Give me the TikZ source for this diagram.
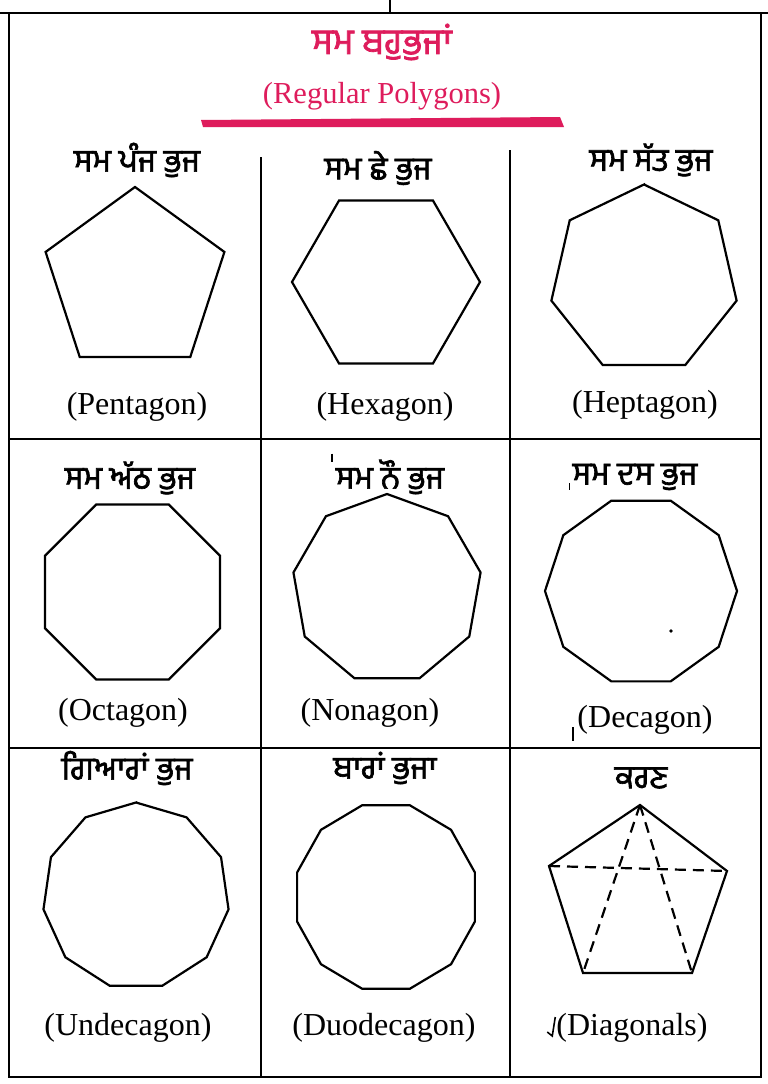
\documentclass[tikz,border=0pt]{standalone}
\usepackage{fontspec}
\setmainfont{Liberation Serif}
\newfontfamily\pa[Script=Gurmukhi,FakeBold=2]{Hind Jalandhar}
\definecolor{titlepink}{RGB}{222,28,92}
\tikzset{
  rule/.style={line width=2.6pt, black},
  polyline/.style={line width=2.2pt, line join=miter},
  palabel/.style={font=\pa\fontsize{32}{36}\selectfont, inner sep=0pt},
  enlabel/.style={font=\fontsize{32}{38}\selectfont, inner sep=0pt},
  diagline/.style={line width=2.2pt, dash pattern=on 11pt off 7pt},
  artifact/.style={line width=1.6pt, black},
}
\newcommand\rpoly[6]{\draw[polyline] plot[samples=#5, domain=0:360] ({#1+#3*cos(\x+#6)},{#2-#4*sin(\x+#6)}) -- cycle;}
\begin{document}
\begin{tikzpicture}[x=1pt,y=-1pt]
\fill[white] (0,0) rectangle (768,1084);
\useasboundingbox (0,0) rectangle (768,1084);

% table rules
\draw[rule] (0,13) -- (768,13);
\draw[rule] (390,0) -- (390,13);
\draw[rule] (9,13) -- (9,1077) -- (761,1077) -- (761,13);
\draw[rule] (9,439) -- (761,439);
\draw[rule] (9,748) -- (761,748);
\draw[rule] (261,157) -- (261,1077);
\draw[rule] (510,150) -- (510,1077);

% title
\node[font=\pa\fontsize{36}{40}\selectfont, text=titlepink, inner sep=0pt] (title) at (382,42) {ਸਮ ਬਹੁਭੁਜਾਂ};
\node[font=\fontsize{30.5}{34}\selectfont, text=titlepink, inner sep=0pt] (subtitle) at (382,96) {(Regular Polygons)};
\fill[titlepink] (201,120) -- (560,117) -- (564,127) -- (203,127) -- cycle;

% row 1
\node[palabel] (l1) at (137,160) {ਸਮ ਪੰਜ ਭੁਜ};
\node[palabel] (l2) at (378,168) {ਸਮ ਛੇ ਭੁਜ};
\node[palabel] (l3) at (651,160) {ਸਮ ਸੱਤ ਭੁਜ};
\rpoly{135}{281}{94}{94}{6}{90}
\rpoly{386}{282}{94}{94}{7}{0}
\rpoly{644}{279.5}{95}{95}{8}{90}
\node[enlabel] (e1) at (137,407) {(Pentagon)};
\node[enlabel] (e2) at (385,407) {(Hexagon)};
\node[enlabel] (e3) at (645,405) {(Heptagon)};

% row 2
\node[palabel] (l4) at (130,478) {ਸਮ ਅੱਠ ਭੁਜ};
\node[palabel] (l5) at (390,477) {ਸਮ ਨੌ ਭੁਜ};
\node[palabel] (l6) at (635,477) {ਸਮ ਦਸ ਭੁਜ};
\rpoly{132.5}{592}{94.7}{94.7}{9}{22.5}
\rpoly{387}{589}{95}{95}{10}{90}
\rpoly{641}{591}{96}{95}{11}{0}
\node[enlabel] (e4) at (123,713) {(Octagon)};
\node[enlabel] (e5) at (370,713) {(Nonagon)};
\node[enlabel] (e6) at (645,720) {(Decagon)};
\draw[artifact] ([xshift=-4pt,yshift=6pt]l5.north west) -- ++(0,8);
\draw[artifact] ([xshift=-3pt,yshift=-6pt]l6.west) -- ++(0,7);
\draw[artifact] ([xshift=-4pt,yshift=-7pt]e6.west) -- ++(0,14);
\fill (671,631) circle (1.8);

% row 3
\node[palabel] (l7) at (127,768) {ਗਿਆਰਾਂ ਭੁਜ};
\node[palabel] (l8) at (385,768) {ਬਾਰਾਂ ਭੁਜਾ};
\node[palabel] (l9) at (641,778) {ਕਰਣ};
\rpoly{136}{896}{93.5}{93.5}{12}{90}
\rpoly{386}{897}{92}{95}{13}{15}
\node[enlabel] (e7) at (128,1028) {(Undecagon)};
\node[enlabel] (e8) at (384,1028) {(Duodecagon)};
\node[enlabel] (e9) at (632,1028) {(Diagonals)};
\coordinate (jmark) at ([xshift=-1pt]e9.west);
\draw[artifact] ([yshift=11pt]jmark) -- ([xshift=-3pt,yshift=-8pt]jmark) -- ([xshift=-8pt,yshift=-4pt]jmark);

% pentagon with diagonals
\coordinate (pt) at (640,805);
\coordinate (pl) at (549,866);
\coordinate (pr) at (727,871);
\coordinate (pll) at (583,973);
\coordinate (plr) at (692,973);
\draw[polyline] (pt) -- (pr) -- (plr) -- (pll) -- (pl) -- cycle;
\draw[diagline] (pt) -- (pll);
\draw[diagline] (pt) -- (plr);
\draw[diagline] (pl) -- (pr);
\end{tikzpicture}
\end{document}
